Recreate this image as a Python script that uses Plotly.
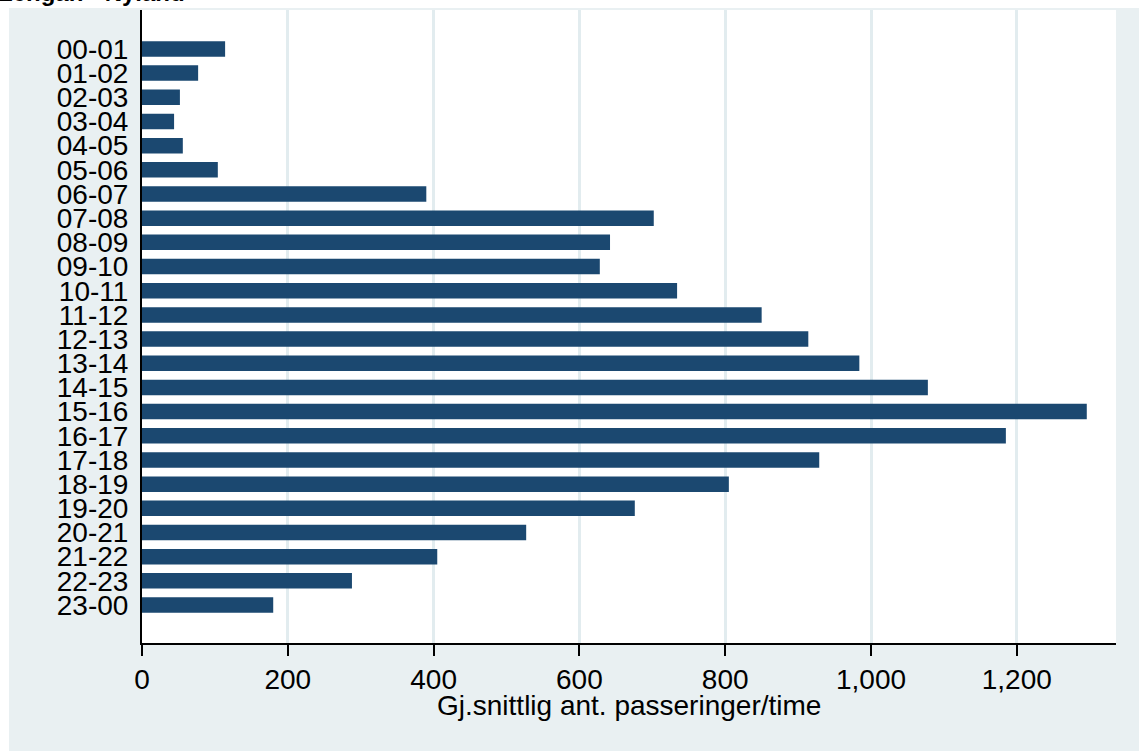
import plotly.graph_objects as go

hours = ["00-01", "01-02", "02-03", "03-04", "04-05", "05-06", "06-07", "07-08",
         "08-09", "09-10", "10-11", "11-12", "12-13", "13-14", "14-15", "15-16",
         "16-17", "17-18", "18-19", "19-20", "20-21", "21-22", "22-23", "23-00"]
passings = [114, 77, 52, 44, 56, 104, 390, 702,
            642, 628, 734, 850, 914, 984, 1078, 1296,
            1185, 929, 805, 676, 527, 405, 288, 180]
x_ticks = [0, 200, 400, 600, 800, 1000, 1200]
x_title = "Gj.snittlig ant. passeringer/time"
top_title = "Lengan - Nyland"

W, H = 1139, 751
L, R, T, B = 142, 1139 - 1116, 10, 751 - 643
pw, ph = W - L - R, H - T - B

BG = "#e9f0f2"
FONT = "Liberation Sans, Arial, sans-serif"

fig = go.Figure(go.Bar(
    x=passings, y=hours, orientation="h",
    marker=dict(color="#1b4870", line=dict(width=0)),
    width=0.64,
))

fig.update_layout(
    width=W, height=H,
    margin=dict(l=L, r=R, t=T, b=B, autoexpand=False),
    paper_bgcolor=BG, plot_bgcolor="white",
    showlegend=False,
    font=dict(family=FONT, size=28, color="black"),
    xaxis=dict(
        range=[0, pw / 0.729], tickmode="array", tickvals=x_ticks, tickformat=",d",
        showgrid=True, gridcolor="#e2ecef", gridwidth=3, zeroline=False,
        showline=True, linecolor="black", linewidth=1.5,
        ticks="outside", ticklen=11, tickwidth=1.5, tickcolor="black",
        tickfont=dict(size=28, family=FONT), automargin=False,
    ),
    yaxis=dict(
        type="category", categoryorder="array", categoryarray=hours,
        tickmode="array", tickvals=hours, ticktext=hours,
        range=[24.57, -1.61], automargin=False,
        showgrid=False, zeroline=False,
        showline=True, linecolor="black", linewidth=2,
        ticks="", ticklabelstandoff=6,
        tickfont=dict(size=28, family=FONT),
    ),
    shapes=[
        dict(type="rect", xref="paper", yref="paper",
             x0=-L / pw - 0.01, x1=(W - L) / pw + 0.01,
             y0=1 + 2 / ph, y1=1 + (T + 5) / ph,
             fillcolor="white", line=dict(width=0), layer="above"),
        dict(type="rect", xref="paper", yref="paper",
             x0=-L / pw - 0.01, x1=-(L - 9) / pw,
             y0=-B / ph - 0.01, y1=1 + (T + 5) / ph,
             fillcolor="white", line=dict(width=0), layer="above"),
    ],
    annotations=[
        dict(text="<b>" + top_title + "</b>", xref="paper", yref="paper",
             x=-(L + 4) / pw, y=1 + (T + 7) / ph, xanchor="left", yanchor="middle",
             showarrow=False, font=dict(size=24, family=FONT, color="black")),
        dict(text=x_title, xref="paper", yref="paper",
             x=0.5, y=-(705 - 643) / ph, xanchor="center", yanchor="middle",
             showarrow=False, font=dict(size=28, family=FONT, color="black")),
    ],
)

fig.write_html("out.html", config={"displayModeBar": False},
               post_script="document.body.style.margin='0px';")
